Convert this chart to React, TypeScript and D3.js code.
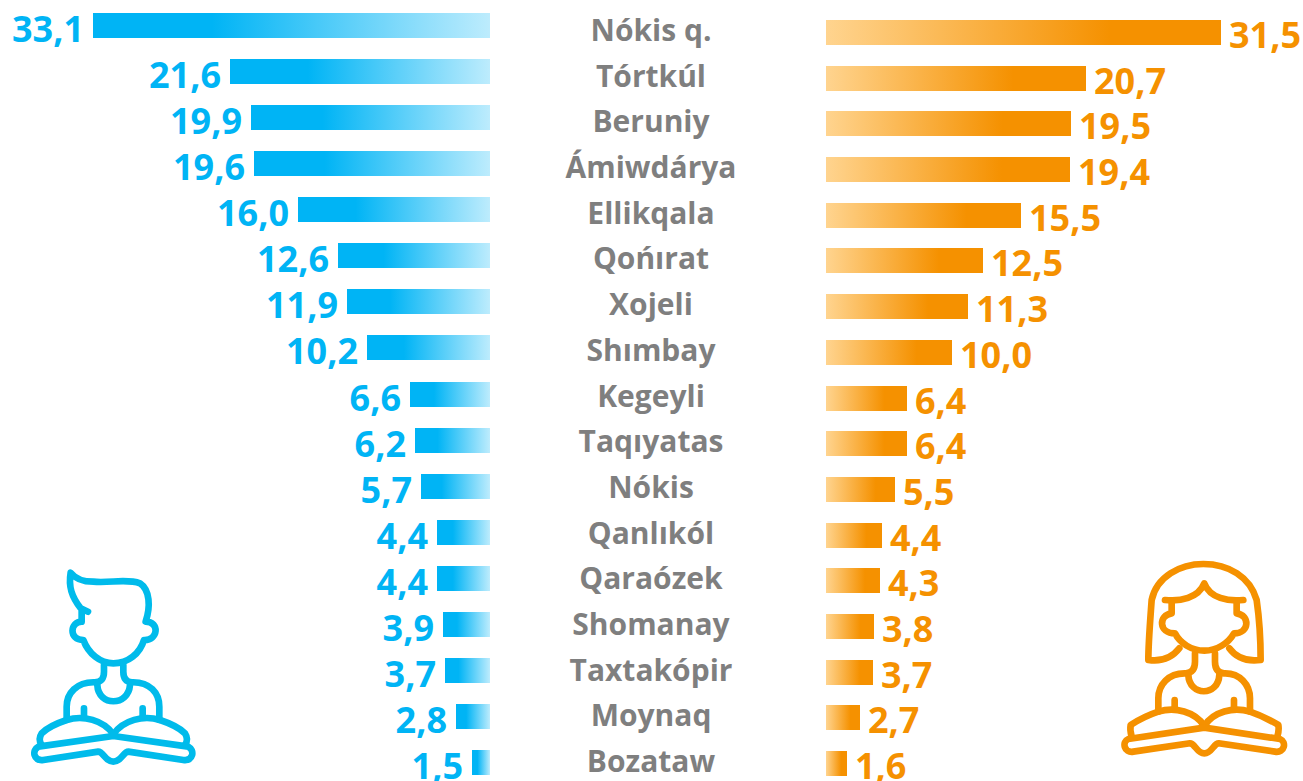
import React from "react";
import * as d3 from "d3";

const districts = ["Nókis q.", "Tórtkúl", "Beruniy", "Ámiwdárya", "Ellikqala", "Qońırat", "Xojeli", "Shımbay", "Kegeyli", "Taqıyatas", "Nókis", "Qanlıkól", "Qaraózek", "Shomanay", "Taxtakópir", "Moynaq", "Bozataw"];
const boys = [33.1, 21.6, 19.9, 19.6, 16.0, 12.6, 11.9, 10.2, 6.6, 6.2, 5.7, 4.4, 4.4, 3.9, 3.7, 2.8, 1.5];
const girls = [31.5, 20.7, 19.5, 19.4, 15.5, 12.5, 11.3, 10.0, 6.4, 6.4, 5.5, 4.4, 4.3, 3.8, 3.7, 2.7, 1.6];

const BLUE = "#00B4F5";
const ORANGE = "#F59100";
const FONT = "'Open Sans', sans-serif";
const barH = 25;

const fmt = (v: number) => v.toFixed(1).replace(".", ",");

function Boy() {
    return (
        <g transform="translate(0,550) scale(0.3333)" fill="none" stroke="#00BBEB" strokeWidth={20} strokeLinecap="round" strokeLinejoin="round">
            <path d="M264,185 L242,175 C215,140 205,110 212,68 C225,85 250,95 280,95 C330,100 380,85 420,100 C450,120 452,170 437,215 C480,215 475,272 432,270 C420,310 385,340 340,340 C300,340 265,310 250,270 C205,270 210,215 245,215 L245,180" />
            <path d="M312,345 L312,365 C312,385 305,395 285,397 C230,395 200,430 200,470 L200,510" />
            <path d="M370,345 L370,365 C370,385 378,395 395,397 C450,395 478,430 478,470 L478,510" />
            <path d="M292,405 C295,470 385,470 390,405" />
            <path d="M252,475 L252,500 M428,475 L428,500" />
            <path d="M340,553 C310,510 250,495 200,510 C170,520 140,535 125,550 C115,565 118,575 125,585" />
            <path d="M340,553 C370,510 430,495 480,510 C510,520 540,535 555,550 C565,565 562,575 555,585" />
            <path d="M340,558 L115,590 C95,600 100,635 130,630 L295,605 C310,605 315,635 340,635 C365,635 370,605 385,605 L550,630 C580,635 585,600 565,590 Z" />
        </g>
    );
}

function Girl() {
    return (
        <g transform="translate(1100,550) scale(0.3333)" fill="none" stroke={ORANGE} strokeWidth={20} strokeLinecap="round" strokeLinejoin="round">
            <path d="M195,150 C240,155 295,145 313,100 C330,145 385,155 430,150" />
            <path d="M215,155 L215,190 C175,195 175,250 225,250 C240,280 275,302 313,302 C350,302 385,280 402,250 C450,250 450,195 410,190 L410,155" />
            <path d="M238,295 C215,325 180,335 145,330 C145,280 150,220 155,150 C170,80 240,42 310,42 C385,42 450,80 470,150 C480,220 482,280 482,330 C445,335 410,325 388,295" />
            <path d="M285,310 L285,335 C285,355 278,368 258,370 C205,368 175,405 175,445 L175,485" />
            <path d="M345,310 L345,335 C345,355 352,368 372,370 C420,368 450,405 450,445 L450,485" />
            <path d="M265,375 C268,440 355,440 358,375" />
            <path d="M224,450 L224,475 M402,450 L402,475" />
            <path d="M313,528 C285,485 225,470 175,485 C145,495 115,510 92,525 C90,535 92,550 95,560" />
            <path d="M313,528 C340,485 400,470 450,485 C480,495 510,510 535,525 C537,535 535,550 532,560" />
            <path d="M313,533 L85,567 C65,575 72,610 100,605 L270,580 C285,580 290,610 313,610 C336,610 341,580 356,580 L525,605 C555,610 560,575 540,567 Z" />
        </g>
    );
}

export default function App() {
    const xLeft = d3.scaleLinear().domain([0, 33.1]).range([490, 93]);
    const xRight = d3.scaleLinear().domain([0, 31.5]).range([826, 1221]);
    const yLeft = d3.scalePoint<string>().domain(districts).range([25.5, 762.5]);
    const yRight = d3.scalePoint<string>().domain(districts).range([32.5, 763.5]);
    const yLabel = d3.scalePoint<string>().domain(districts).range([29.5, 760.5]);

    return (
        <svg width={1303} height={781} style={{ position: "absolute", left: 0, top: 0, display: "block" }} fontFamily={FONT} fontWeight={700}>
            <defs>
                <linearGradient id="gradBlue" x1="0" x2="1" y1="0" y2="0">
                    <stop offset="0.3" stopColor={BLUE} />
                    <stop offset="1" stopColor="#BDECFD" />
                </linearGradient>
                <linearGradient id="gradOrange" x1="0" x2="1" y1="0" y2="0">
                    <stop offset="0" stopColor="#FFD48F" />
                    <stop offset="0.72" stopColor={ORANGE} />
                </linearGradient>
            </defs>
            {districts.map((d, i) => {
                // bars snap outward to whole pixels, like the reference
                const bx = Math.floor(xLeft(boys[i]));
                const gx = Math.ceil(xRight(girls[i]));
                const by = Math.round(yLeft(d)! - barH / 2);
                const gy = Math.round(yRight(d)! - barH / 2);
                return (
                    <g key={d}>
                        <rect x={bx} y={by} width={490 - bx} height={barH} fill="url(#gradBlue)" />
                        <text x={bx - 9} y={by + barH / 2 + 2.5} textAnchor="end" dominantBaseline="central" fontSize={36} fill={BLUE}>{fmt(boys[i])}</text>
                        <text x={651} y={yLabel(d)} textAnchor="middle" dominantBaseline="central" fontSize={30} fill="#7F7F7F">{d}</text>
                        <rect x={826} y={gy} width={gx - 826} height={barH} fill="url(#gradOrange)" />
                        <text x={gx + 8} y={gy + barH / 2 + 2} dominantBaseline="central" fontSize={36} fill={ORANGE}>{fmt(girls[i])}</text>
                    </g>
                );
            })}
            <Boy />
            <Girl />
        </svg>
    );
}
